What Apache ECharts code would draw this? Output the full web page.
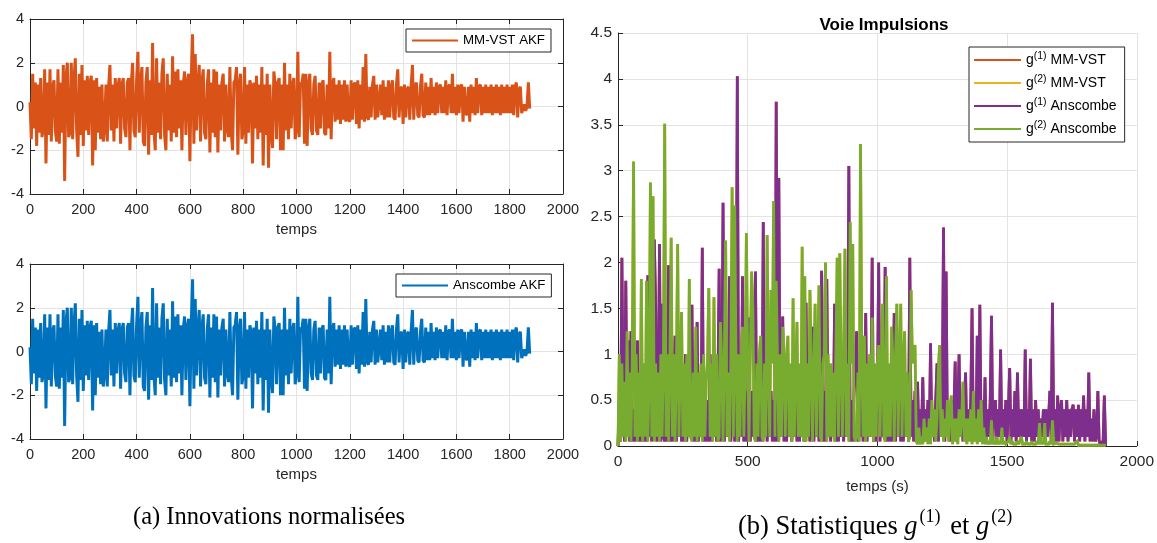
<!DOCTYPE html>
<html><head><meta charset="utf-8">
<script src="https://cdn.jsdelivr.net/npm/echarts@6/dist/echarts.min.js"></script>
<style>html,body{margin:0;padding:0;background:#fff}#c{width:1157px;height:543px}</style>
</head><body><div id="c"></div>
<script>
// time between stored samples (s)
const sampleStep = 5;

// Normalised innovations (top: MM-VST AKF; bottom: Anscombe AKF looks identical)
const innovMMVST = [
 0.2, -1.5, 1.5, -1.0, 1.1, -1.8, 1.0, -1.2, 1.3, -1.4,
 -1.0, 1.7, -2.6, 1.1, -1.3, 1.7, -1.6, 0.9, 1.2, -1.1,
 -1.6, 1.7, -1.7, 1.1, -1.2, 1.9, -3.4, 1.3, 2.0, -1.4,
 -1.2, 2.0, -1.5, 1.2, 2.2, -1.1, -2.3, 1.5, -1.3, 1.9,
 -1.8, 1.2, -1.1, 1.4, -1.3, 1.1, 1.4, -2.7, 1.2, -2.0,
 1.3, -1.2, 0.9, -1.5, 1.0, -1.6, -1.0, 1.0, -1.6, 0.9,
 1.9, -1.1, 1.0, -1.6, 1.3, -1.0, 0.9, 1.3, -1.7, 1.0,
 1.3, -1.0, -1.4, 1.1, 1.3, -2.0, 1.0, 2.0, -1.1, -1.4,
 1.2, 2.5, -1.2, 1.1, 1.8, -1.6, -1.8, 1.1, 1.8, -2.2,
 1.2, -1.3, 2.9, -1.1, -2.0, 2.2, -1.2, 1.1, -1.5, 1.5,
 2.2, -1.3, -2.0, 1.5, -1.1, 1.0, -1.6, 2.3, -1.2, 1.6,
 -1.4, 1.7, -1.0, 1.2, -2.0, 1.0, 1.6, -1.3, 1.1, 1.5,
 -2.5, 1.2, 3.3, -1.7, 2.4, -1.1, 1.0, 1.9, -1.6, 1.1,
 1.7, -1.2, -1.5, 1.0, 1.7, -2.1, 1.1, -1.2, 1.7, -1.4,
 1.6, -2.1, 1.0, -1.1, 1.1, 1.5, -1.6, 1.0, -1.0, -1.4,
 1.8, -1.1, -2.0, 1.1, 1.2, 1.8, -2.2, 1.0, 1.5, -1.5,
 -1.1, 1.8, -1.7, 1.0, -1.2, 1.2, 0.9, -2.6, 1.1, -1.0,
 1.4, -1.5, 1.0, -1.2, 1.8, -2.7, 1.0, -1.3, 1.5, -2.8,
 1.0, -1.2, -1.9, 1.6, 1.0, -1.5, 1.1, 1.3, -2.0, 1.0,
 -2.0, 2.0, -1.1, 1.0, -1.5, 1.5, -1.0, 1.0, 1.3, -1.5,
 -1.0, 2.5, -1.4, 1.1, 1.0, 1.5, -1.7, 1.5, -1.8, 1.0,
 1.5, -1.0, -1.3, 1.0, 1.4, -1.1, -1.3, 1.1, -1.0, 1.0,
 1.2, -1.2, -1.3, 1.0, -1.0, 2.5, -1.5, 1.0, 1.3, -0.7,
 1.0, -0.6, 1.2, -0.8, 1.0, -0.6, 1.2, -0.7, 1.0, -0.6,
 -0.7, 1.2, -0.6, 1.0, 1.1, -0.8, 1.2, -1.0, 1.0, -0.6,
 1.8, -0.7, 2.4, -0.5, -0.6, 0.9, -0.5, 1.0, 1.4, -0.6,
 1.0, -0.5, -0.5, 1.0, -0.4, 1.2, -0.6, 0.9, -0.5, 1.2,
 -0.5, 0.9, 1.2, -0.5, -0.6, 1.0, 1.7, -0.5, 0.8, 0.9,
 -0.8, 1.0, -0.5, 0.8, 0.9, -0.6, 0.9, 1.9, -0.6, 0.9,
 1.1, -0.4, -0.5, 0.9, 1.5, -0.4, -0.5, 1.1, -0.4, 0.9,
 -0.4, 1.3, -0.3, 0.9, -0.4, 1.1, -0.3, 0.9, 1.0, -0.3,
 0.9, -0.3, 1.2, -0.4, 0.9, 1.0, -0.3, 1.5, -0.3, 0.9,
 -0.4, 1.0, -0.3, 0.9, 1.0, -0.7, 0.9, -0.3, -0.4, 0.9,
 -0.7, 1.0, -0.3, 0.9, -0.4, 1.3, -0.3, 0.9, 1.0, -0.4,
 0.9, -0.3, 1.0, -0.3, 0.9, -0.3, 1.0, -0.4, 0.9, -0.3,
 1.0, -0.3, 0.9, -0.4, 1.0, -0.3, 0.9, -0.3, 1.0, -0.3,
 0.9, -0.3, 1.0, -0.4, 0.9, 1.1, -0.5, 0.8, 0.9, -0.3,
 -0.3, 0.1, -0.2, 0.0, 1.1, -0.1
];
const innovAnscombe = [...innovMMVST];

// Statistics g(1), g(2) for Anscombe (the MM-VST curves lie hidden beneath them)
const g1Anscombe = [
 0, 0.5, 0.05, 2.05, 0.4, 0.05, 1.8, 0.3, 1.15, 0.05,
 1.25, 0.05, 0.4, 0.05, 0.6, 1.15, 0.05, 0.5, 0.05, 0.6,
 0.05, 0.5, 0.05, 1.86, 0.1, 0.6, 0.05, 0.5, 2.25, 1.55,
 0.05, 0.5, 2.2, 0.05, 1.55, 0.1, 0.05, 0.6, 0.05, 1.97,
 0.05, 0.5, 0.05, 0.6, 1.2, 0.05, 0.5, 0.1, 0.6, 0.05,
 0.5, 0.05, 1.0, 0.05, 0.6, 0.1, 0.5, 1.54, 0.05, 0.6,
 0.05, 1.35, 0.05, 0.5, 0.1, 2.16, 0.05, 0.6, 0.05, 0.5,
 0.05, 1.0, 0.05, 0.6, 0.1, 0.5, 0.05, 0.6, 1.93, 0.05,
 0.5, 2.65, 0.05, 0.6, 0.1, 0.5, 1.85, 0.05, 0.6, 1.85,
 0.05, 0.6, 4.03, 0.05, 0.5, 0.1, 1.85, 0.05, 0.6, 0.05,
 0.5, 1.4, 0.05, 0.6, 0.1, 0.5, 1.9, 0.05, 0.6, 0.05,
 0.5, 0.05, 2.44, 0.1, 0.6, 0.05, 0.5, 0.1, 0.6, 0.05,
 0.5, 0.05, 3.75, 0.05, 2.92, 0.1, 0.5, 1.41, 0.05, 0.6,
 0.05, 0.5, 0.1, 0.6, 0.05, 0.5, 0.1, 0.6, 0.05, 0.5,
 0.05, 0.6, 0.1, 0.5, 0.05, 1.56, 0.1, 0.5, 0.05, 0.6,
 1.3, 0.05, 0.5, 0.1, 0.6, 0.05, 0.5, 1.91, 0.05, 0.6,
 0.05, 1.82, 0.1, 0.5, 0.05, 0.6, 0.1, 1.55, 0.05, 0.5,
 0.05, 0.6, 0.1, 0.5, 0.05, 0.6, 0.1, 0.5, 3.05, 0.05,
 0.5, 0.05, 0.6, 0.85, 1.25, 0.05, 0.5, 0.1, 0.6, 0.05,
 0.5, 1.45, 0.05, 0.6, 0.1, 0.5, 2.05, 0.05, 0.6, 0.05,
 0.5, 2.0, 0.05, 0.6, 0.1, 0.5, 1.95, 0.05, 0.6, 0.05,
 0.5, 0.05, 0.6, 1.45, 0.05, 0.5, 0.1, 0.6, 0.05, 0.5,
 0.05, 0.6, 0.1, 0.5, 0.05, 2.05, 0.1, 0.5, 0.05, 0.6,
 0.05, 0.7, 0.05, 0.4, 0.1, 0.75, 0.05, 0.4, 0.1, 0.5,
 0.05, 1.12, 0.1, 0.4, 0.05, 0.5, 0.9, 0.05, 0.4, 0.1,
 0.5, 2.38, 0.05, 1.9, 0.1, 0.4, 0.05, 0.5, 0.1, 0.4,
 0.92, 0.05, 0.4, 1.0, 0.1, 0.5, 0.05, 0.4, 0.8, 0.05,
 0.4, 0.1, 0.5, 1.5, 0.05, 0.4, 0.1, 1.2, 0.05, 1.54,
 0.05, 0.5, 0.1, 0.75, 0.05, 0.4, 0.1, 0.5, 1.42, 0.05,
 0.4, 0.5, 0.05, 0.4, 0.1, 1.05, 0.05, 0.4, 0.1, 0.5,
 0.05, 0.4, 0.85, 0.05, 0.4, 0.1, 0.6, 0.05, 0.8, 0.1,
 0.4, 0.05, 0.4, 0.1, 1.05, 0.05, 0.4, 0.1, 0.95, 0.05,
 0.4, 0.05, 0.5, 0.1, 0.4, 0.05, 0.3, 0.1, 0.4, 0.05,
 0.4, 0.1, 0.3, 0.6, 0.05, 1.56, 0.1, 0.4, 0.05, 0.55,
 0.05, 0.4, 0.5, 0.05, 0.4, 0.1, 0.5, 0.05, 0.4, 0.1,
 0.4, 0.45, 0.05, 0.4, 0.1, 0.45, 0.05, 0.4, 0.1, 0.55,
 0.05, 0.4, 0.1, 0.8, 0.05, 0.3, 0.05, 0.4, 0.05, 0.1,
 0.6, 0.05, 0.02, 0.05, 0.02, 0.55, 0
];
const g2Anscombe = [
 0, 1.0, 0.05, 0.9, 0.1, 0.7, 0.05, 1.25, 0.1, 0.8,
 0.05, 0.9, 3.1, 0.1, 1.0, 0.05, 0.8, 0.1, 1.82, 0.05,
 0.9, 0.1, 1.8, 0.05, 0.7, 2.87, 0.1, 2.72, 0.05, 0.9,
 0.1, 0.8, 0.05, 1.0, 0.1, 0.9, 3.51, 0.1, 1.0, 0.05,
 0.9, 2.27, 0.1, 1.0, 0.05, 0.8, 2.2, 0.1, 0.9, 1.46,
 0.1, 0.9, 0.05, 1.0, 0.1, 1.82, 0.1, 0.05, 0.8, 0.1,
 1.3, 0.05, 0.8, 0.1, 0.9, 0.05, 1.0, 0.1, 0.7, 0.9,
 1.72, 0.1, 0.9, 0.05, 1.62, 0.1, 1.0, 0.05, 0.1, 1.35,
 0.9, 0.05, 1.0, 2.24, 0.1, 0.8, 0.05, 0.9, 2.82, 0.1,
 2.62, 0.9, 0.05, 1.0, 0.1, 0.9, 1.3, 0.1, 0.8, 2.32,
 0.9, 0.05, 1.0, 1.9, 1.5, 0.1, 0.05, 0.9, 0.1, 1.0,
 1.2, 0.1, 0.05, 0.9, 0.1, 2.3, 0.8, 0.1, 1.7, 0.9,
 2.67, 0.1, 1.8, 0.9, 0.05, 1.0, 0.1, 1.3, 0.9, 0.1,
 1.0, 1.2, 0.1, 0.9, 0.05, 1.61, 0.1, 0.8, 1.35, 0.1,
 0.9, 0.1, 2.17, 0.05, 1.85, 0.05, 0.9, 0.1, 1.7, 0.9,
 0.05, 0.9, 1.55, 0.1, 1.0, 1.75, 0.1, 0.05, 0.9, 1.0,
 2.0, 0.05, 1.0, 0.1, 0.9, 0.1, 0.8, 0.05, 1.0, 2.05,
 0.1, 2.1, 0.9, 0.1, 1.0, 2.15, 0.1, 0.9, 0.05, 2.44,
 0.9, 2.2, 0.1, 0.05, 0.1, 0.8, 0.05, 3.29, 0.9, 0.1,
 1.2, 0.05, 0.9, 0.1, 1.0, 0.1, 1.4, 0.05, 0.9, 0.1,
 0.9, 1.1, 0.1, 0.8, 1.55, 0.1, 0.05, 1.85, 0.1, 0.9,
 0.1, 1.3, 0.9, 0.05, 1.0, 1.55, 0.1, 0.9, 1.55, 0.1,
 0.9, 1.25, 0.1, 0.8, 0.05, 0.1, 1.7, 0.9, 1.0, 1.1,
 0.05, 0.02, 0.2, 0.02, 0.1, 0.02, 0.3, 0.05, 0.2, 0.02,
 0.3, 0.02, 0.5, 0.1, 0.4, 0.05, 0.3, 0.83, 1.1, 0.1,
 0.4, 0.05, 0.3, 0.1, 0.5, 0.05, 0.4, 0.55, 0.02, 0.3,
 0.05, 0.3, 0.02, 0.4, 0.1, 0.3, 0.7, 0.05, 0.3, 0.02,
 0.3, 0.05, 0.4, 0.02, 0.6, 0.05, 0.3, 0.02, 0.4, 0.05,
 0.5, 0.02, 0.2, 0.02, 0.1, 0.02, 0.05, 0.02, 0.28, 0.02,
 0.05, 0.02, 0.1, 0.02, 0.05, 0.02, 0.2, 0.02, 0.05, 0.02,
 0.02, 0.05, 0.1, 0.02, 0.05, 0.02, 0.03, 0.02, 0.05, 0.02,
 0.02, 0.1, 0.02, 0.03, 0.02, 0.05, 0.02, 0.03, 0.02, 0.05,
 0.02, 0.03, 0.02, 0.05, 0.02, 0.25, 0.02, 0.05, 0.02, 0.25,
 0.02, 0.03, 0.02, 0.05, 0.02, 0.28, 0.02, 0.02, 0.03, 0.02,
 0.02, 0.01, 0.02, 0.01, 0.02, 0.01, 0.02, 0.01, 0.02, 0.01,
 0.02, 0.01, 0.02, 0.01, 0.05, 0.01, 0.02, 0.01, 0.02, 0.01,
 0.01, 0.01, 0.01, 0.01, 0.01, 0.01, 0.01, 0.01, 0.01, 0.01,
 0.01, 0.01, 0.01, 0.01, 0.01, 0.01, 0
];
const g1MMVST = [...g1Anscombe];
const g2MMVST = [...g2Anscombe];

const leftXTicks = {min: 0, max: 2000, interval: 200};
const leftYTicks = {min: -4, max: 4, interval: 2};
const rightXTicks = {min: 0, max: 2000, interval: 500};
const rightYTicks = {min: 0, max: 4.5, interval: 0.5};

const legendLabels = {
  'g1 MM-VST': 'g{s|(1)} MM-VST', 'g2 MM-VST': 'g{s|(2)} MM-VST',
  'g1 Anscombe': 'g{s|(1)} Anscombe', 'g2 Anscombe': 'g{s|(2)} Anscombe'
};

const toPairs = arr => arr.map((v, i) => [i * sampleStep, v]);

const F = 'Liberation Sans, Arial, sans-serif';
const SERIF = 'Liberation Serif, Times New Roman, serif';
const AX = '#262626';
const GRIDC = '#e3e3e3';
const COL = {orange: '#D95319', blue: '#0072BD', yellow: '#EDB120', purple: '#7E2F8E', green: '#77AC30'};
const plain = v => String(v);

function xAx(gi, t, fs, opts) {
  return Object.assign({
    type: 'value', gridIndex: gi, min: t.min, max: t.max, interval: t.interval, position: 'bottom',
    axisLine: {show: true, onZero: false, lineStyle: {color: AX, width: 1}},
    axisTick: {show: true, inside: true, length: 5, lineStyle: {color: AX}},
    axisLabel: {show: true, color: AX, fontSize: fs, fontFamily: F, margin: 8, formatter: plain},
    splitLine: {show: true, lineStyle: {color: GRIDC, width: 1}},
    nameTextStyle: {color: AX, fontSize: 15, fontFamily: F}
  }, opts);
}
function yAx(gi, t, fs, opts) {
  return Object.assign({
    type: 'value', gridIndex: gi, min: t.min, max: t.max, interval: t.interval, position: 'left',
    axisLine: {show: true, onZero: false, lineStyle: {color: AX, width: 1}},
    axisTick: {show: true, inside: true, length: 5, lineStyle: {color: AX}},
    axisLabel: {show: true, color: AX, fontSize: fs, fontFamily: F, margin: 6, formatter: plain},
    splitLine: {show: true, lineStyle: {color: GRIDC, width: 1}}
  }, opts);
}
const mirror = {axisLabel: {show: false}, splitLine: {show: false}};

const lineSeries = (name, data, color, xi, yi, w) => ({
  name, type: 'line', data: toPairs(data), xAxisIndex: xi, yAxisIndex: yi,
  showSymbol: false, symbol: 'none', animation: false,
  lineStyle: {color, width: w, join: 'miter', miterLimit: 2}, itemStyle: {color}, z: 2
});

const chart = echarts.init(document.getElementById('c'), null, {renderer: 'canvas'});
chart.setOption({
  animation: false,
  backgroundColor: '#fff',
  title: {text: 'Voie Impulsions', left: 879, top: 12, textAlign: 'center',
          textStyle: {fontFamily: F, fontSize: 17, fontWeight: 'bold', color: '#000'}},
  grid: [
    {left: 30, top: 19, width: 533, height: 175},
    {left: 30, top: 264, width: 533, height: 175},
    {left: 618, top: 33, width: 521, height: 413}
  ],
  xAxis: [
    xAx(0, leftXTicks, 14.5, {name: 'temps', nameLocation: 'middle', nameGap: 28}),
    xAx(1, leftXTicks, 14.5, {name: 'temps', nameLocation: 'middle', nameGap: 28}),
    xAx(2, rightXTicks, 15.5, {name: 'temps (s)', nameLocation: 'middle', nameGap: 33}),
    xAx(0, leftXTicks, 14.5, Object.assign({position: 'top'}, mirror)),
    xAx(1, leftXTicks, 14.5, Object.assign({position: 'top'}, mirror))
  ],
  yAxis: [
    yAx(0, leftYTicks, 14.5),
    yAx(1, leftYTicks, 14.5),
    yAx(2, rightYTicks, 15.5),
    yAx(0, leftYTicks, 14.5, Object.assign({position: 'right'}, mirror)),
    yAx(1, leftYTicks, 14.5, Object.assign({position: 'right'}, mirror))
  ],
  legend: [
    {data: [{name: 'MM-VST AKF', icon: 'rect'}], left: 406, top: 29, orient: 'vertical',
     padding: [5, 6, 5, 6], itemWidth: 46, itemHeight: 2, itemGap: 0,
     backgroundColor: '#fff', borderColor: AX, borderWidth: 1, borderRadius: 0,
     textStyle: {fontFamily: F, fontSize: 13.3, color: '#000'}},
    {data: [{name: 'Anscombe AKF', icon: 'rect'}], left: 396, top: 274, orient: 'vertical',
     padding: [5, 6, 5, 6], itemWidth: 46, itemHeight: 2, itemGap: 0,
     backgroundColor: '#fff', borderColor: AX, borderWidth: 1, borderRadius: 0,
     textStyle: {fontFamily: F, fontSize: 13.3, color: '#000'}},
    {data: ['g1 MM-VST', 'g2 MM-VST', 'g1 Anscombe', 'g2 Anscombe'].map(n => ({name: n, icon: 'rect'})),
     left: 969, top: 47, orient: 'vertical',
     padding: [4, 8, 4, 5], itemWidth: 47, itemHeight: 2, itemGap: 5,
     backgroundColor: '#fff', borderColor: AX, borderWidth: 1, borderRadius: 0,
     formatter: n => legendLabels[n],
     textStyle: {fontFamily: F, fontSize: 14, color: '#000', lineHeight: 18,
       rich: {s: {fontFamily: F, fontSize: 10.5, color: '#000', verticalAlign: 'top', lineHeight: 10, padding: [0, 0, 6, 0]}}}}
  ],
  series: [
    lineSeries('MM-VST AKF', innovMMVST, COL.orange, 0, 0, 3),
    lineSeries('Anscombe AKF', innovAnscombe, COL.blue, 1, 1, 3),
    lineSeries('g1 MM-VST', g1MMVST, COL.orange, 2, 2, 2.8),
    lineSeries('g2 MM-VST', g2MMVST, COL.yellow, 2, 2, 2.8),
    lineSeries('g1 Anscombe', g1Anscombe, COL.purple, 2, 2, 2.8),
    lineSeries('g2 Anscombe', g2Anscombe, COL.green, 2, 2, 2.8)
  ],
  graphic: [
    {type: 'text', left: 133, top: 505,
     style: {text: '(a) Innovations normalisées', font: '24.5px ' + SERIF, fill: '#000'}},
    {type: 'text', left: 738, top: 508,
     style: {text: '{n|(b) Statistiques }{i|g}{s|(1)}{n| et }{i|g}{s|(2)}', fill: '#000',
       rich: {
         n: {fontFamily: SERIF, fontSize: 26.5, verticalAlign: 'bottom', lineHeight: 33},
         i: {fontFamily: SERIF, fontSize: 26.5, fontStyle: 'italic', verticalAlign: 'bottom', lineHeight: 33},
         s: {fontFamily: SERIF, fontSize: 18, verticalAlign: 'top', lineHeight: 18, padding: [0, 3, 0, 2]}
       }}}
  ]
});
</script></body></html>
